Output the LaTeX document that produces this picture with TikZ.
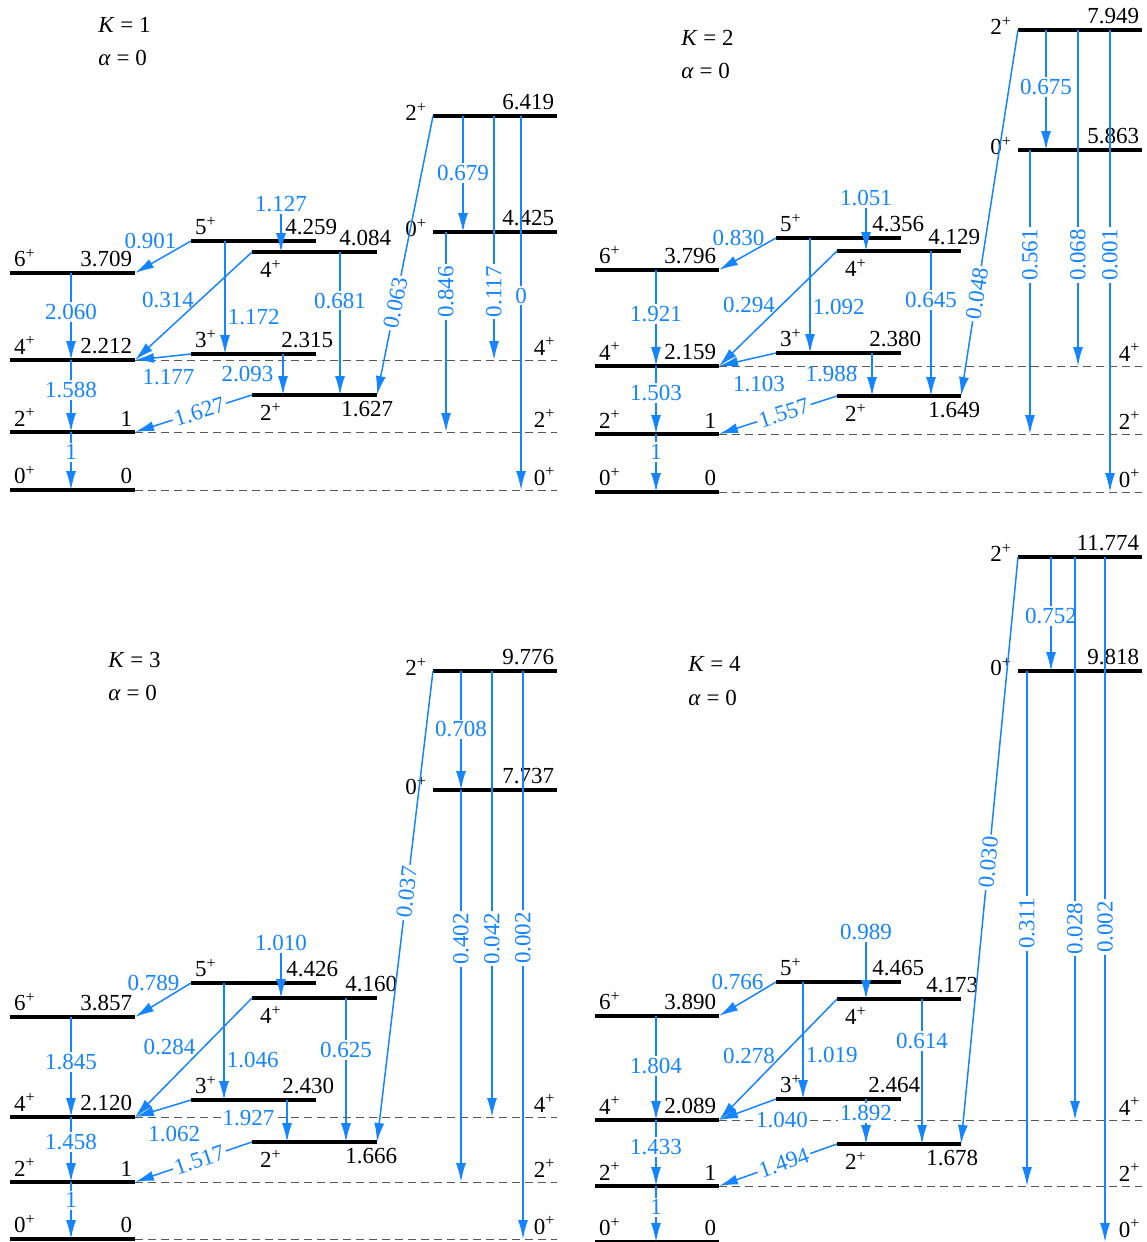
\documentclass[tikz,border=0pt]{standalone}
\usepackage{fontspec}
\setmainfont{Liberation Serif}
\usepackage{tikz}
\usetikzlibrary{arrows.meta}
\definecolor{trblue}{RGB}{20,132,255}
\newcommand{\jp}[1]{#1\textsuperscript{+}}
\begin{document}
\begin{tikzpicture}[x=0.5pt, y=-0.5pt, >={Latex[length=9.5pt,width=5pt]},
	every node/.style={font=\fontsize{11.5}{13}\selectfont, inner sep=1pt},
	lvl/.style={line width=2pt},
	gap/.style={draw=black!65, line width=0.5pt, dash pattern=on 4pt off 2.5pt},
	tr/.style={->, draw=trblue, line width=0.75pt},
	lab/.style={text=trblue},
	labw/.style={text=trblue, fill=white},
	en/.style={anchor=south east, inner xsep=0.5pt, inner ysep=2pt},
	enb/.style={anchor=north east, inner xsep=0.5pt, inner ysep=2pt},
	jl/.style={anchor=south west, inner xsep=1pt, inner ysep=2pt},
	jb/.style={anchor=north west, inner sep=3pt},
	jt/.style={anchor=east, yshift=2pt, inner sep=2pt},
	ttl/.style={anchor=west}]
	\useasboundingbox (0,0) rectangle (1146,1242);

	% K = 1
	\node[ttl] (aK) at (96,25) {\textit{K} = 1};
	\node[ttl] (aal) at (96,58) {\textit{α} = 0};
	\draw[lvl] (10,273) coordinate (a6l) node[jl] (a6j) {\jp6} -- (135,273) coordinate (a6r) node[en] (a6e) {3.709};
	\draw[lvl] (10,360) coordinate (a4l) node[jl] (a4j) {\jp4} -- (135,360) coordinate (a4r) node[en] (a4e) {2.212};
	\draw[lvl] (10,432) coordinate (a2l) node[jl] (a2j) {\jp2} -- (135,432) coordinate (a2r) node[en] (a2e) {1};
	\draw[lvl] (10,490) coordinate (a0l) node[jl] (a0j) {\jp0} -- (135,490) coordinate (a0r) node[en] (a0e) {0};
	\draw[lvl] (191,241) coordinate (a5l) node[jl] (a5j) {\jp5} -- (316,241) coordinate (a5r) node[en, xshift=12pt] (a5e) {4.259};
	\draw[lvl] (191,354) coordinate (a3l) node[jl] (a3j) {\jp3} -- (316,354) coordinate (a3r) node[en, xshift=10pt] (a3e) {2.315};
	\draw[lvl] (252,252) coordinate (a4bl) node[jb] (a4bj) {\jp4} -- (377,252) coordinate (a4br) node[en, xshift=8.5pt] (a4be) {4.084};
	\draw[lvl] (252,395) coordinate (a2bl) node[jb] (a2bj) {\jp2} -- (377,395) coordinate (a2br) node[enb, xshift=9.5pt] (a2be) {1.627};
	\draw[lvl] (433,116) coordinate (a2tl) node[jt] (a2tj) {\jp2} -- (557,116) coordinate (a2tr) node[en] (a2te) {6.419};
	\draw[lvl] (433,232) coordinate (a0tl) node[jt] (a0tj) {\jp0} -- (557,232) coordinate (a0tr) node[en] (a0te) {4.425};
	\draw[gap] (a4r) -- (557,360) node[en] (a4g) {\jp4};
	\draw[gap] (a2r) -- (557,432) node[en] (a2g) {\jp2};
	\draw[gap] (a0r) -- (557,490) node[en] (a0g) {\jp0};
	\draw[tr] (71,0 |- a6l) -- node[labw, pos=.45] (a2060) {2.060} (71,0 |- a4l);
	\draw[tr] (71,0 |- a4l) -- node[labw, pos=.42] (a1588) {1.588} (71,0 |- a2l);
	\draw[tr] (71,0 |- a2l) -- node[labw, pos=.35] (a1) {1} (71,0 |- a0l);
	\draw[tr] (a5l) -- node[lab, pos=0, left=6pt] (a0901) {0.901} (a6r);
	\node[lab] (a1127) at (281,204) {1.127};
	\draw[tr] (a1127) -- (a1127 |- a4bl);
	\draw[tr] (225,0 |- a5l) -- node[lab, pos=.67, right] (a1172) {1.172} (225,0 |- a3l);
	\draw[tr] (a4bl) -- node[lab, pos=.44, left=2pt] (a0314) {0.314} (a4r);
	\draw[tr] (340,0 |- a4bl) -- node[labw, pos=.34] (a0681) {0.681} (340,0 |- a2bl);
	\draw[tr] (a3l) -- node[lab, pos=.4, below=5pt] (a1177) {1.177} (a4r);
	\draw[tr] (283,0 |- a3l) -- node[lab, pos=.5, left=3.5pt] (a2093) {2.093} (283,0 |- a2bl);
	\draw[tr] (a2bl) -- node[labw, sloped, pos=.45] (a1627) {1.627} (a2r);
	\draw[tr] (a2tl) -- node[labw, sloped, pos=.67] (a0063) {0.063} (a2br);
	\draw[tr] (463,0 |- a2tl) -- node[labw, pos=.49] (a0679) {0.679} (463,0 |- a0tl);
	\draw[tr] (494,0 |- a2tl) -- node[labw, rotate=90, pos=.72] (a0117) {0.117} (494,0 |- a4l);
	\draw[tr] (521,0 |- a2tl) -- node[labw, pos=.48] (a0) {0} (521,0 |- a0l);
	\draw[tr] (446,0 |- a0tl) -- node[labw, rotate=90, pos=.3] (a0846) {0.846} (446,0 |- a2l);

	% K = 2
	\begin{scope}[shift={(585,0)}]
	\node[ttl] (bK) at (94,38) {\textit{K} = 2};
	\node[ttl] (bal) at (94,71) {\textit{α} = 0};
	\draw[lvl] (10,270) coordinate (b6l) node[jl] (b6j) {\jp6} -- (134,270) coordinate (b6r) node[en] (b6e) {3.796};
	\draw[lvl] (10,366) coordinate (b4l) node[jl] (b4j) {\jp4} -- (134,366) coordinate (b4r) node[en] (b4e) {2.159};
	\draw[lvl] (10,434) coordinate (b2l) node[jl] (b2j) {\jp2} -- (134,434) coordinate (b2r) node[en] (b2e) {1};
	\draw[lvl] (10,492) coordinate (b0l) node[jl] (b0j) {\jp0} -- (134,492) coordinate (b0r) node[en] (b0e) {0};
	\draw[lvl] (191,238) coordinate (b5l) node[jl] (b5j) {\jp5} -- (316,238) coordinate (b5r) node[en, xshift=13pt] (b5e) {4.356};
	\draw[lvl] (191,353) coordinate (b3l) node[jl] (b3j) {\jp3} -- (316,353) coordinate (b3r) node[en, xshift=11.5pt] (b3e) {2.380};
	\draw[lvl] (252,251) coordinate (b4bl) node[jb] (b4bj) {\jp4} -- (376,251) coordinate (b4br) node[en, xshift=11pt] (b4be) {4.129};
	\draw[lvl] (252,396) coordinate (b2bl) node[jb] (b2bj) {\jp2} -- (376,396) coordinate (b2br) node[enb, xshift=11pt] (b2be) {1.649};
	\draw[lvl] (433,30) coordinate (b2tl) node[jt] (b2tj) {\jp2} -- (557,30) coordinate (b2tr) node[en] (b2te) {7.949};
	\draw[lvl] (433,150) coordinate (b0tl) node[jt] (b0tj) {\jp0} -- (557,150) coordinate (b0tr) node[en] (b0te) {5.863};
	\draw[gap] (b4r) -- (557,366) node[en] (b4g) {\jp4};
	\draw[gap] (b2r) -- (557,434) node[en] (b2g) {\jp2};
	\draw[gap] (b0r) -- (557,492) node[en] (b0g) {\jp0};
	\draw[tr] (71,0 |- b6l) -- node[labw, pos=.46] (b1921) {1.921} (71,0 |- b4l);
	\draw[tr] (71,0 |- b4l) -- node[labw, pos=.4] (b1503) {1.503} (71,0 |- b2l);
	\draw[tr] (71,0 |- b2l) -- node[labw, pos=.31] (b1) {1} (71,0 |- b0l);
	\draw[tr] (b5l) -- node[lab, pos=0, left=4.5pt] (b0830) {0.830} (b6r);
	\node[lab] (b1051) at (281,198) {1.051};
	\draw[tr] (b1051) -- (b1051 |- b4bl);
	\draw[tr] (225,0 |- b5l) -- node[lab, pos=.6, right] (b1092) {1.092} (225,0 |- b3l);
	\draw[tr] (b4bl) -- node[lab, pos=.47, left=2pt] (b0294) {0.294} (b4r);
	\draw[tr] (346,0 |- b4bl) -- node[labw, pos=.34] (b0645) {0.645} (346,0 |- b2bl);
	\draw[tr] (b3l) -- node[lab, pos=.3, below=8.5pt] (b1103) {1.103} (b4r);
	\draw[tr] (287,0 |- b3l) -- node[lab, pos=.5, left=6pt] (b1988) {1.988} (287,0 |- b2bl);
	\draw[tr] (b2bl) -- node[labw, sloped, pos=.45] (b1557) {1.557} (b2r);
	\draw[tr] (b2tl) -- node[labw, sloped, pos=.72] (b0048) {0.048} (b2br);
	\draw[tr] (461,0 |- b2tl) -- node[labw, pos=.475] (b0675) {0.675} (461,0 |- b0tl);
	\draw[tr] (493,0 |- b2tl) -- node[labw, rotate=90, pos=.67] (b0068) {0.068} (493,0 |- b4l);
	\draw[tr] (525,0 |- b2tl) -- node[labw, rotate=90, pos=.487] (b0001) {0.001} (525,0 |- b0l);
	\draw[tr] (445,0 |- b0tl) -- node[labw, rotate=90, pos=.37] (b0561) {0.561} (445,0 |- b2l);
	\end{scope}

	% K = 3
	\node[ttl] (cK) at (106,660) {\textit{K} = 3};
	\node[ttl] (cal) at (106,693) {\textit{α} = 0};
	\draw[lvl] (10,1017) coordinate (c6l) node[jl] (c6j) {\jp6} -- (135,1017) coordinate (c6r) node[en] (c6e) {3.857};
	\draw[lvl] (10,1117) coordinate (c4l) node[jl] (c4j) {\jp4} -- (135,1117) coordinate (c4r) node[en] (c4e) {2.120};
	\draw[lvl] (10,1182) coordinate (c2l) node[jl] (c2j) {\jp2} -- (135,1182) coordinate (c2r) node[en] (c2e) {1};
	\draw[lvl] (10,1239) coordinate (c0l) node[jl] (c0j) {\jp0} -- (135,1239) coordinate (c0r) node[en] (c0e) {0};
	\draw[lvl] (191,983) coordinate (c5l) node[jl] (c5j) {\jp5} -- (316,983) coordinate (c5r) node[en, xshift=12.5pt] (c5e) {4.426};
	\draw[lvl] (191,1100) coordinate (c3l) node[jl] (c3j) {\jp3} -- (316,1100) coordinate (c3r) node[en, xshift=10.5pt] (c3e) {2.430};
	\draw[lvl] (252,998) coordinate (c4bl) node[jb] (c4bj) {\jp4} -- (377,998) coordinate (c4br) node[en, xshift=11.5pt] (c4be) {4.160};
	\draw[lvl] (252,1142) coordinate (c2bl) node[jb] (c2bj) {\jp2} -- (377,1142) coordinate (c2br) node[enb, xshift=11.5pt] (c2be) {1.666};
	\draw[lvl] (433,671) coordinate (c2tl) node[jt] (c2tj) {\jp2} -- (557,671) coordinate (c2tr) node[en] (c2te) {9.776};
	\draw[lvl] (433,790) coordinate (c0tl) node[jt] (c0tj) {\jp0} -- (557,790) coordinate (c0tr) node[en] (c0te) {7.737};
	\draw[gap] (c4r) -- (557,1117) node[en] (c4g) {\jp4};
	\draw[gap] (c2r) -- (557,1182) node[en] (c2g) {\jp2};
	\draw[gap] (c0r) -- (557,1239) node[en] (c0g) {\jp0};
	\draw[tr] (71,0 |- c6l) -- node[labw, pos=.45] (c1845) {1.845} (71,0 |- c4l);
	\draw[tr] (71,0 |- c4l) -- node[labw, pos=.38] (c1458) {1.458} (71,0 |- c2l);
	\draw[tr] (71,0 |- c2l) -- node[labw, pos=.32] (c1) {1} (71,0 |- c0l);
	\draw[tr] (c5l) -- node[lab, pos=0, left=4.5pt] (c0789) {0.789} (c6r);
	\node[lab] (c1010) at (281,943) {1.010};
	\draw[tr] (c1010) -- (c1010 |- c4bl);
	\draw[tr] (224,0 |- c5l) -- node[lab, pos=.66, right] (c1046) {1.046} (224,0 |- c3l);
	\draw[tr] (c4bl) -- node[lab, pos=.41, left=3pt] (c0284) {0.284} (c4r);
	\draw[tr] (346,0 |- c4bl) -- node[labw, pos=.36] (c0625) {0.625} (346,0 |- c2bl);
	\draw[tr] (c3l) -- node[lab, pos=.3, below=9pt] (c1062) {1.062} (c4r);
	\draw[tr] (287,0 |- c3l) -- node[labw, pos=.43, left=5pt] (c1927) {1.927} (287,0 |- c2bl);
	\draw[tr] (c2bl) -- node[labw, sloped, pos=.45] (c1517) {1.517} (c2r);
	\draw[tr] (c2tl) -- node[labw, sloped, pos=.47] (c0037) {0.037} (c2br);
	\draw[tr] (461,0 |- c2tl) -- node[labw, pos=.49] (c0708) {0.708} (461,0 |- c0tl);
	\draw[tr] (492,0 |- c2tl) -- node[labw, rotate=90, pos=.6] (c0042) {0.042} (492,0 |- c4l);
	\draw[tr] (523,0 |- c2tl) -- node[labw, rotate=90, pos=.47] (c0002) {0.002} (523,0 |- c0l);
	\draw[tr] (461,0 |- c0tl) -- node[labw, rotate=90, pos=.38] (c0402) {0.402} (461,0 |- c2l);

	% K = 4
	\begin{scope}[shift={(585,0)}]
	\node[ttl] (dK) at (101,664) {\textit{K} = 4};
	\node[ttl] (dal) at (101,698) {\textit{α} = 0};
	\draw[lvl] (10,1016) coordinate (d6l) node[jl] (d6j) {\jp6} -- (134,1016) coordinate (d6r) node[en] (d6e) {3.890};
	\draw[lvl] (10,1120) coordinate (d4l) node[jl] (d4j) {\jp4} -- (134,1120) coordinate (d4r) node[en] (d4e) {2.089};
	\draw[lvl] (10,1186) coordinate (d2l) node[jl] (d2j) {\jp2} -- (134,1186) coordinate (d2r) node[en] (d2e) {1};
	\draw[lvl] (10,1242) coordinate (d0l) node[jl] (d0j) {\jp0} -- (134,1242) coordinate (d0r) node[en] (d0e) {0};
	\draw[lvl] (191,982) coordinate (d5l) node[jl] (d5j) {\jp5} -- (316,982) coordinate (d5r) node[en, xshift=13pt] (d5e) {4.465};
	\draw[lvl] (191,1099) coordinate (d3l) node[jl] (d3j) {\jp3} -- (316,1099) coordinate (d3r) node[en, xshift=11pt] (d3e) {2.464};
	\draw[lvl] (252,999) coordinate (d4bl) node[jb] (d4bj) {\jp4} -- (376,999) coordinate (d4br) node[en, xshift=10pt] (d4be) {4.173};
	\draw[lvl] (252,1144) coordinate (d2bl) node[jb] (d2bj) {\jp2} -- (376,1144) coordinate (d2br) node[enb, xshift=10pt] (d2be) {1.678};
	\draw[lvl] (433,557) coordinate (d2tl) node[jt] (d2tj) {\jp2} -- (557,557) coordinate (d2tr) node[en] (d2te) {11.774};
	\draw[lvl] (433,671) coordinate (d0tl) node[jt] (d0tj) {\jp0} -- (557,671) coordinate (d0tr) node[en] (d0te) {9.818};
	\draw[gap] (d4r) -- (557,1120) node[en] (d4g) {\jp4};
	\draw[gap] (d2r) -- (557,1186) node[en] (d2g) {\jp2};
	\draw[gap] (d0r) -- (557,1242) node[en] (d0g) {\jp0};
	\draw[tr] (71,0 |- d6l) -- node[labw, pos=.48] (d1804) {1.804} (71,0 |- d4l);
	\draw[tr] (71,0 |- d4l) -- node[labw, pos=.41] (d1433) {1.433} (71,0 |- d2l);
	\draw[tr] (71,0 |- d2l) -- node[labw, pos=.38] (d1) {1} (71,0 |- d0l);
	\draw[tr] (d5l) -- node[lab, pos=0, left=5pt] (d0766) {0.766} (d6r);
	\node[lab] (d0989) at (281,932) {0.989};
	\draw[tr] (d0989) -- (d0989 |- d4bl);
	\draw[tr] (218,0 |- d5l) -- node[lab, pos=.62, right] (d1019) {1.019} (218,0 |- d3l);
	\draw[tr] (d4bl) -- node[lab, pos=.47, left=2pt] (d0278) {0.278} (d4r);
	\draw[tr] (337,0 |- d4bl) -- node[labw, pos=.29] (d0614) {0.614} (337,0 |- d2bl);
	\draw[tr] (d3l) -- (d4r);
	\node[labw] (d1040) at (197,1120) {1.040};
	\draw[tr] (281,0 |- d3l) -- node[labw, pos=.31] (d1892) {1.892} (281,0 |- d2bl);
	\draw[tr] (d2bl) -- node[labw, sloped, pos=.45] (d1494) {1.494} (d2r);
	\draw[tr] (d2tl) -- node[labw, sloped, pos=.52] (d0030) {0.030} (d2br);
	\draw[tr] (466,0 |- d2tl) -- node[labw, pos=.52] (d0752) {0.752} (466,0 |- d0tl);
	\draw[tr] (490,0 |- d2tl) -- node[labw, rotate=90, pos=.66] (d0028) {0.028} (490,0 |- d4l);
	\draw[tr] (520,0 |- d2tl) -- node[labw, rotate=90, pos=.54] (d0002) {0.002} (520,0 |- d0l);
	\draw[tr] (442,0 |- d0tl) -- node[labw, rotate=90, pos=.49] (d0311) {0.311} (442,0 |- d2l);
	\end{scope}
\end{tikzpicture}
\end{document}
